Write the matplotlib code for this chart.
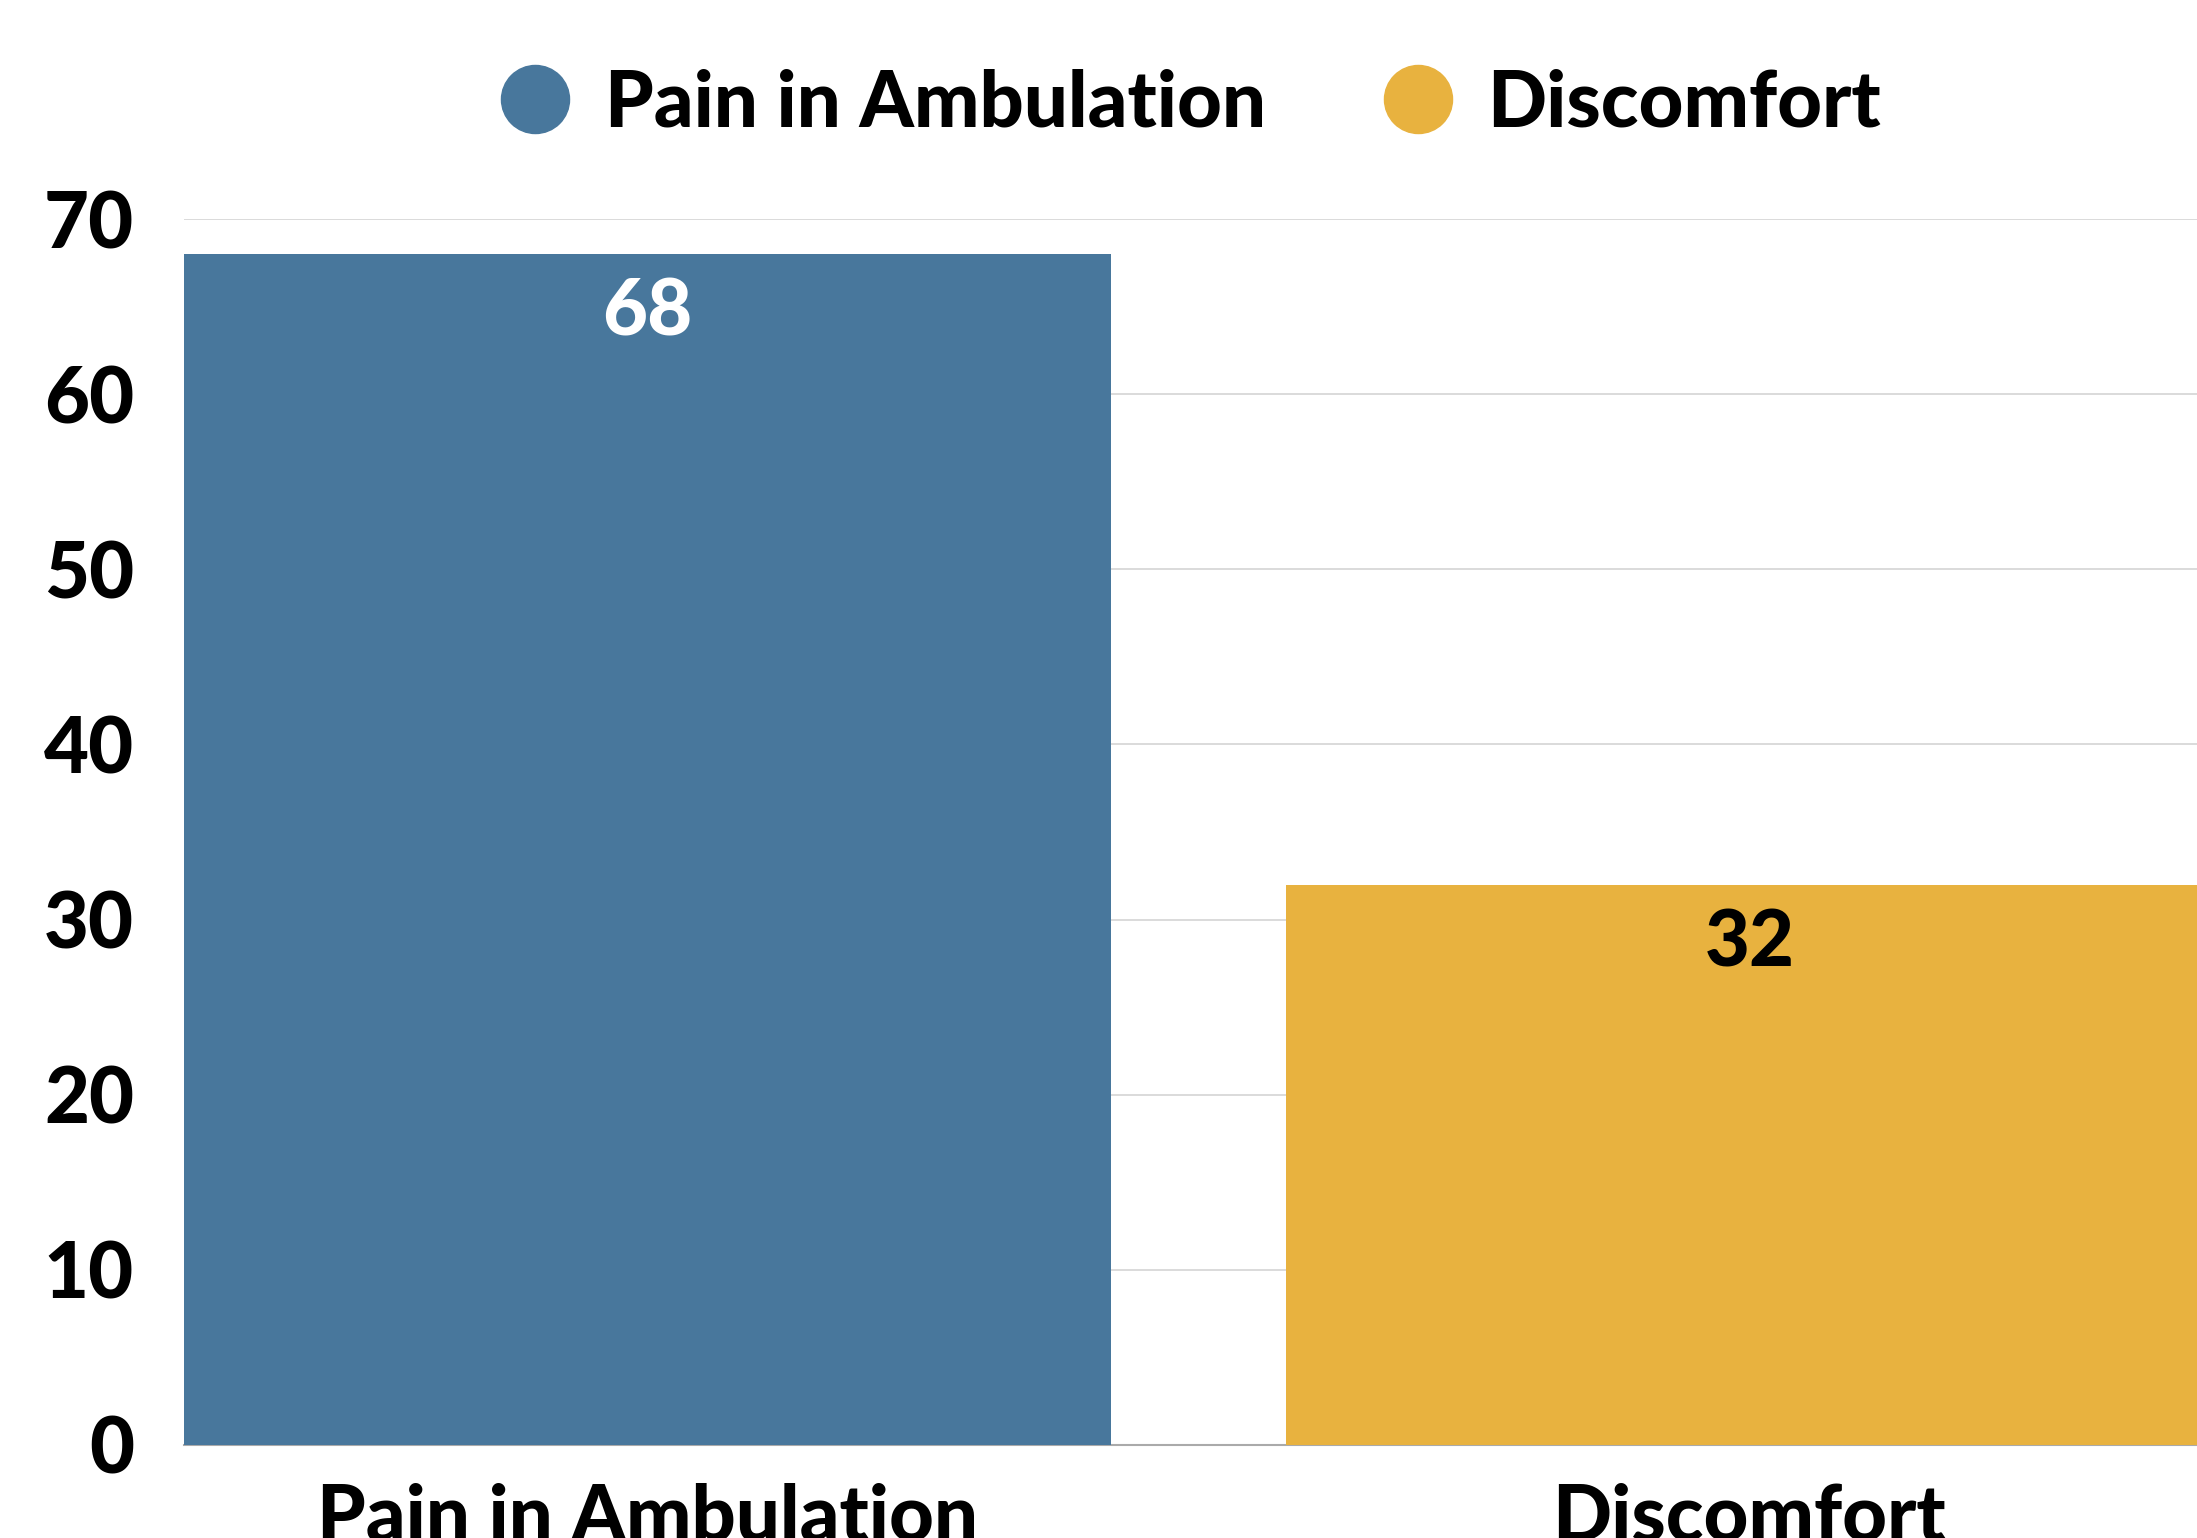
import matplotlib
matplotlib.use("Agg")
import matplotlib.pyplot as plt
from matplotlib.lines import Line2D

categories = ["Pain in Ambulation", "Discomfort"]
values = [68, 32]
colors = ["#48779C", "#E8B23F"]
label_colors = ["white", "black"]
yticks = [0, 10, 20, 30, 40, 50, 60, 70]

plt.rcParams['font.family'] = ['Lato', 'DejaVu Sans']
FW = 'black'
FS = 56

fig = plt.figure(figsize=(21.97, 15.38), dpi=100)
ax = fig.add_axes([184/2197, 1 - 1445/1538, 1 - 184/2197, (1445-219)/1538])

w = 0.841
x = list(range(len(categories)))
bars = ax.bar(x, values, width=w, color=colors, zorder=2)
for xi, v, lc in zip(x, values, label_colors):
    ax.annotate(str(v), (xi, v), xytext=(0, -17), textcoords='offset points',
                ha='center', va='top', fontsize=FS, fontweight=FW, color=lc, zorder=3)

ax.set_xlim(-w/2, -w/2 + (2197-184)/1102)
ax.set_ylim(0, 70)
ax.set_yticks(yticks)
ax.set_yticklabels([str(t) for t in yticks], fontsize=FS, fontweight=FW)
ax.set_xticks(x)
ax.set_xticklabels(categories, fontsize=FS, fontweight=FW)
ax.tick_params(axis='y', length=0, pad=36)
ax.tick_params(axis='x', length=0, pad=27)
ax.grid(axis='y', color='#d4d4d4', linewidth=1.2, zorder=0)
ax.set_axisbelow(True)
for s in ['top', 'right', 'left']:
    ax.spines[s].set_visible(False)
ax.spines['bottom'].set_color('#aaaaaa')
ax.spines['bottom'].set_linewidth(1.5)
ax.spines['bottom'].set_zorder(1)

handles = [Line2D([], [], marker='o', linestyle='none', markersize=49,
                  markerfacecolor=c, markeredgecolor=c) for c in colors]
leg = ax.legend(handles, categories, loc='center', bbox_to_anchor=(0.5, (1538-104 - (1538-1445))/1226),
                ncol=2, frameon=False, handlelength=0.9, handletextpad=0.45,
                columnspacing=1.5, prop={'size': FS, 'weight': FW})
fig.savefig("out.png", dpi=100)
